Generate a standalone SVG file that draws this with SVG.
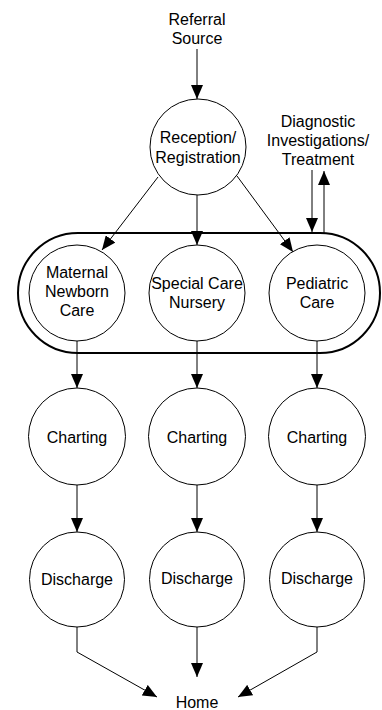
<svg xmlns="http://www.w3.org/2000/svg" width="382" height="710" viewBox="0 0 382 710">
<style>
text{font-family:"Liberation Sans",Arial,sans-serif;font-size:16px;fill:#000;text-anchor:middle}
.n{fill:#fff;stroke:#000;stroke-width:1}
.c{fill:none;stroke:#000;stroke-width:1;marker-end:url(#ah)}
</style>
<defs>
<marker id="ah" markerUnits="userSpaceOnUse" markerWidth="14" markerHeight="12" refX="14" refY="6" orient="auto" viewBox="0 0 14 12">
<path d="M0,0 L14,6 L0,12 z" fill="#000"/>
</marker>
</defs>
<rect id="group" x="18" y="233" width="362" height="120" rx="60" ry="60" fill="none" stroke="#000" stroke-width="2"/>
<g id="connectors">
<path class="c" d="M197,49 V99"/>
<path class="c" d="M158,177 L102,250"/>
<path class="c" d="M197,195 V245"/>
<path class="c" d="M237,176 L293,252"/>
<path class="c" d="M312,170 V232"/>
<path class="c" d="M324,233 V171"/>
<path class="c" d="M77,341 V388"/>
<path class="c" d="M197,341 V388"/>
<path class="c" d="M317,341 V388"/>
<path class="c" d="M77,485 V532"/>
<path class="c" d="M197,485 V532"/>
<path class="c" d="M317,485 V532"/>
<path class="c" d="M77,627 V652 L157,697"/>
<path class="c" d="M197,627 V677"/>
<path class="c" d="M317,627 V652 L238,697"/>
</g>
<g id="referral"><text x="197" y="25">Referral</text><text x="197" y="44">Source</text></g>
<g id="reception"><circle class="n" cx="198" cy="147" r="48"/><text x="198" y="143">Reception/</text><text x="198" y="163">Registration</text></g>
<g id="diagnostic"><text x="318" y="127">Diagnostic</text><text x="318" y="146">Investigations/</text><text x="318" y="165">Treatment</text></g>
<g id="maternal"><circle class="n" cx="77" cy="293" r="48"/><text x="77" y="278">Maternal</text><text x="77" y="297">Newborn</text><text x="77" y="316">Care</text></g>
<g id="special"><circle class="n" cx="197" cy="293" r="48"/><text x="197" y="289">Special Care</text><text x="197" y="308">Nursery</text></g>
<g id="pediatric"><circle class="n" cx="317" cy="293" r="48"/><text x="317" y="289">Pediatric</text><text x="317" y="308">Care</text></g>
<g id="charting1"><circle class="n" cx="77" cy="436.5" r="48.5"/><text x="77" y="443">Charting</text></g>
<g id="charting2"><circle class="n" cx="197" cy="436.5" r="48.5"/><text x="197" y="443">Charting</text></g>
<g id="charting3"><circle class="n" cx="317" cy="436.5" r="48.5"/><text x="317" y="443">Charting</text></g>
<g id="discharge1"><circle class="n" cx="77" cy="579.5" r="47.5"/><text x="77" y="585">Discharge</text></g>
<g id="discharge2"><circle class="n" cx="197" cy="579.5" r="47.5"/><text x="197" y="584">Discharge</text></g>
<g id="discharge3"><circle class="n" cx="317" cy="579.5" r="47.5"/><text x="317" y="584">Discharge</text></g>
<g id="home"><text x="197" y="708">Home</text></g>
</svg>
